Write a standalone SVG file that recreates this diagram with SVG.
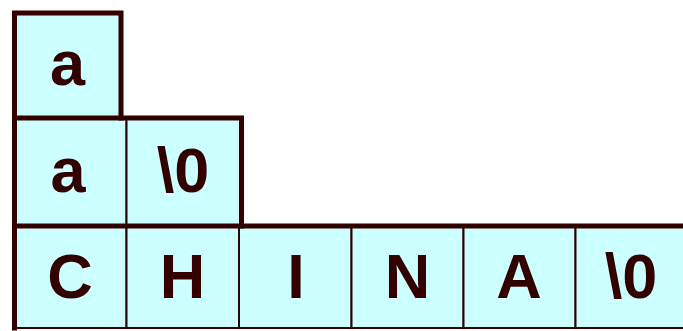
<svg xmlns="http://www.w3.org/2000/svg" width="683" height="331" viewBox="0 0 683 331">
<style>
.cell{fill:#CCFFFF;stroke:#330000;stroke-width:2}
.edge{fill:none;stroke:#330000;stroke-width:5;stroke-linecap:square}
.t{font-family:"Liberation Sans",Arial,sans-serif;font-weight:bold;font-size:63px;fill:#330000;text-anchor:middle}
</style>
<rect width="683" height="331" fill="#ffffff"/>
<g id="row1">
<g id="r1c1"><rect class="cell" x="14.5" y="13" width="106.5" height="105"/><text class="t" x="67.5" y="85">a</text></g>
</g>
<g id="row2">
<g id="r2c1"><rect class="cell" x="14.5" y="118" width="112" height="108"/><text class="t" x="68" y="192">a</text></g>
<g id="r2c2"><rect class="cell" x="126.5" y="118" width="115" height="108"/><text class="t" x="183" y="192">\0</text></g>
</g>
<g id="row3">
<g id="r3c1"><rect class="cell" x="14.5" y="226" width="112" height="102"/><text class="t" x="70" y="298">C</text></g>
<g id="r3c2"><rect class="cell" x="126.5" y="226" width="112.5" height="102"/><text class="t" x="182.5" y="298">H</text></g>
<g id="r3c3"><rect class="cell" x="239" y="226" width="112.5" height="102"/><text class="t" x="296" y="298">I</text></g>
<g id="r3c4"><rect class="cell" x="351.5" y="226" width="112" height="102"/><text class="t" x="407.5" y="298">N</text></g>
<g id="r3c5"><rect class="cell" x="463.5" y="226" width="112" height="102"/><text class="t" x="519" y="298">A</text></g>
<g id="r3c6"><rect class="cell" x="575.5" y="226" width="112" height="102"/><text class="t" x="631" y="298">\0</text></g>
</g>
<g id="borders">
<path class="edge" d="M14.5 328 V13 H121 V118"/>
<path class="edge" d="M14.5 118 H241.5 V226"/>
<path class="edge" d="M14.5 226 H690"/>
</g>
</svg>
